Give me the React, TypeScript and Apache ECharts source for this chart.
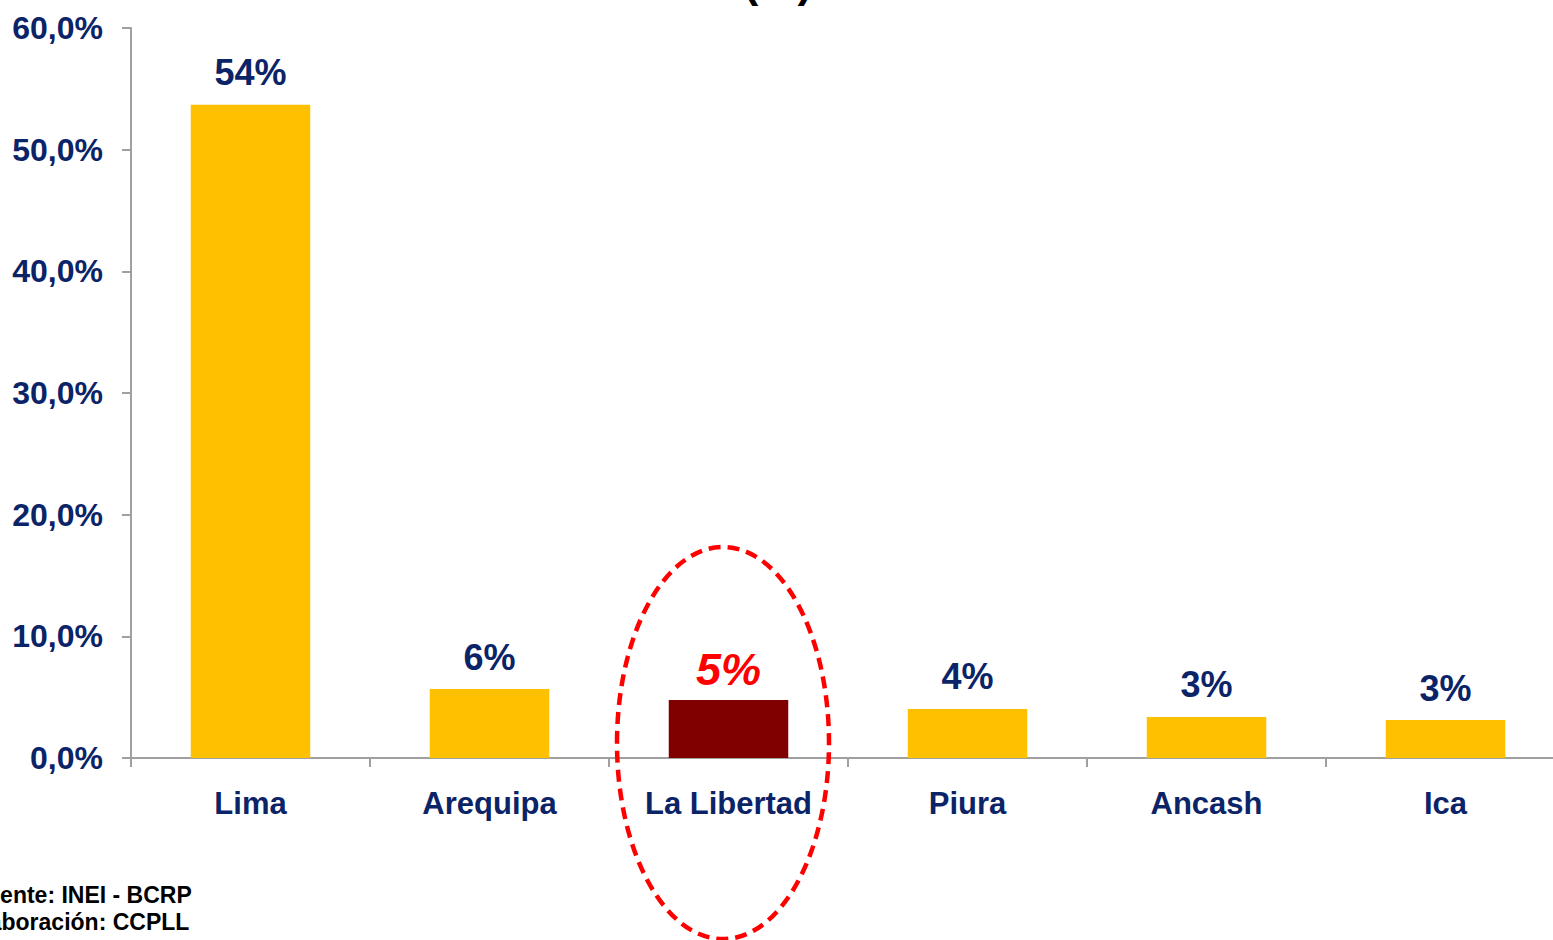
import React, { useEffect, useRef } from "react";
import * as echarts from "echarts";

const categories = ["Lima", "Arequipa", "La Libertad", "Piura", "Ancash", "Ica"];
const values = [53.7, 5.67, 4.77, 4.03, 3.37, 3.12];
const highlightIndex = 2;
const yTicks = { min: 0, max: 60, interval: 10 };
const footnoteSource = "Fuente: INEI - BCRP";
const footnoteAuthor = "Elaboración: CCPLL";
const titleText = "(%)";

const NAVY = "#0B2467";
const FONT = "'Liberation Sans', Arial, sans-serif";

export default function App() {
  const ref = useRef<HTMLDivElement>(null);
  useEffect(() => {
    if (!ref.current) return;
    const chart = echarts.init(ref.current, null, { renderer: "svg" });
    const data = values.map((v, i) =>
      i === highlightIndex
        ? {
            value: v,
            itemStyle: { color: "#800000" },
            label: { color: "#FF0000", fontStyle: "italic", fontSize: 45, distance: 8 },
          }
        : { value: v }
    );
    chart.setOption({
      animation: false,
      backgroundColor: "#ffffff",
      grid: {
        left: 131,
        top: 28,
        width: 1434,
        bottom: 182,
        containLabel: false,
        outerBoundsMode: "none",
      },
      xAxis: {
        type: "category",
        data: categories,
        axisLine: { lineStyle: { color: "#A0A0A0", width: 2 } },
        axisTick: { show: true, length: 9, lineStyle: { color: "#A0A0A0", width: 2 } },
        axisLabel: {
          color: NAVY,
          fontFamily: FONT,
          fontWeight: "bold",
          fontSize: 31,
          margin: 30,
          interval: 0,
        },
      },
      yAxis: {
        type: "value",
        min: yTicks.min,
        max: yTicks.max,
        interval: yTicks.interval,
        splitLine: { show: false },
        axisLine: { show: true, lineStyle: { color: "#A0A0A0", width: 2 } },
        axisTick: { show: true, length: 9, lineStyle: { color: "#A0A0A0", width: 2 } },
        axisLabel: {
          color: NAVY,
          fontFamily: FONT,
          fontWeight: "bold",
          fontSize: 32,
          margin: 28,
          formatter: (v: number) => v.toFixed(1).replace(".", ",") + "%",
        },
      },
      series: [
        {
          type: "bar",
          data,
          barWidth: "50%",
          itemStyle: { color: "#FFC000" },
          label: {
            show: true,
            position: "top",
            distance: 14,
            color: NAVY,
            fontFamily: FONT,
            fontWeight: "bold",
            fontSize: 36,
            formatter: (p: any) => Math.round(p.value) + "%",
          },
        },
      ],
      graphic: [
        {
          type: "ellipse",
          z: 100,
          shape: { cx: 723, cy: 743, rx: 106, ry: 196 },
          style: { fill: "none", stroke: "#FF0000", lineWidth: 4.5, lineDash: [12, 7] },
        },
        {
          type: "text",
          x: 778,
          y: -19,
          style: {
            text: titleText,
            fill: "#000000",
            font: `bold 44px ${FONT}`,
            textAlign: "center",
            textVerticalAlign: "middle",
          },
        },
        {
          type: "text",
          x: -28,
          y: 883,
          style: {
            text: footnoteSource,
            fill: "#000000",
            font: `bold 23px ${FONT}`,
            textAlign: "left",
            textVerticalAlign: "top",
          },
        },
        {
          type: "text",
          x: -33,
          y: 910,
          style: {
            text: footnoteAuthor,
            fill: "#000000",
            font: `bold 23px ${FONT}`,
            textAlign: "left",
            textVerticalAlign: "top",
          },
        },
      ],
    });
    return () => chart.dispose();
  }, []);
  return (
    <div
      ref={ref}
      style={{ position: "absolute", left: 0, top: 0, width: 1553, height: 940 }}
    />
  );
}
